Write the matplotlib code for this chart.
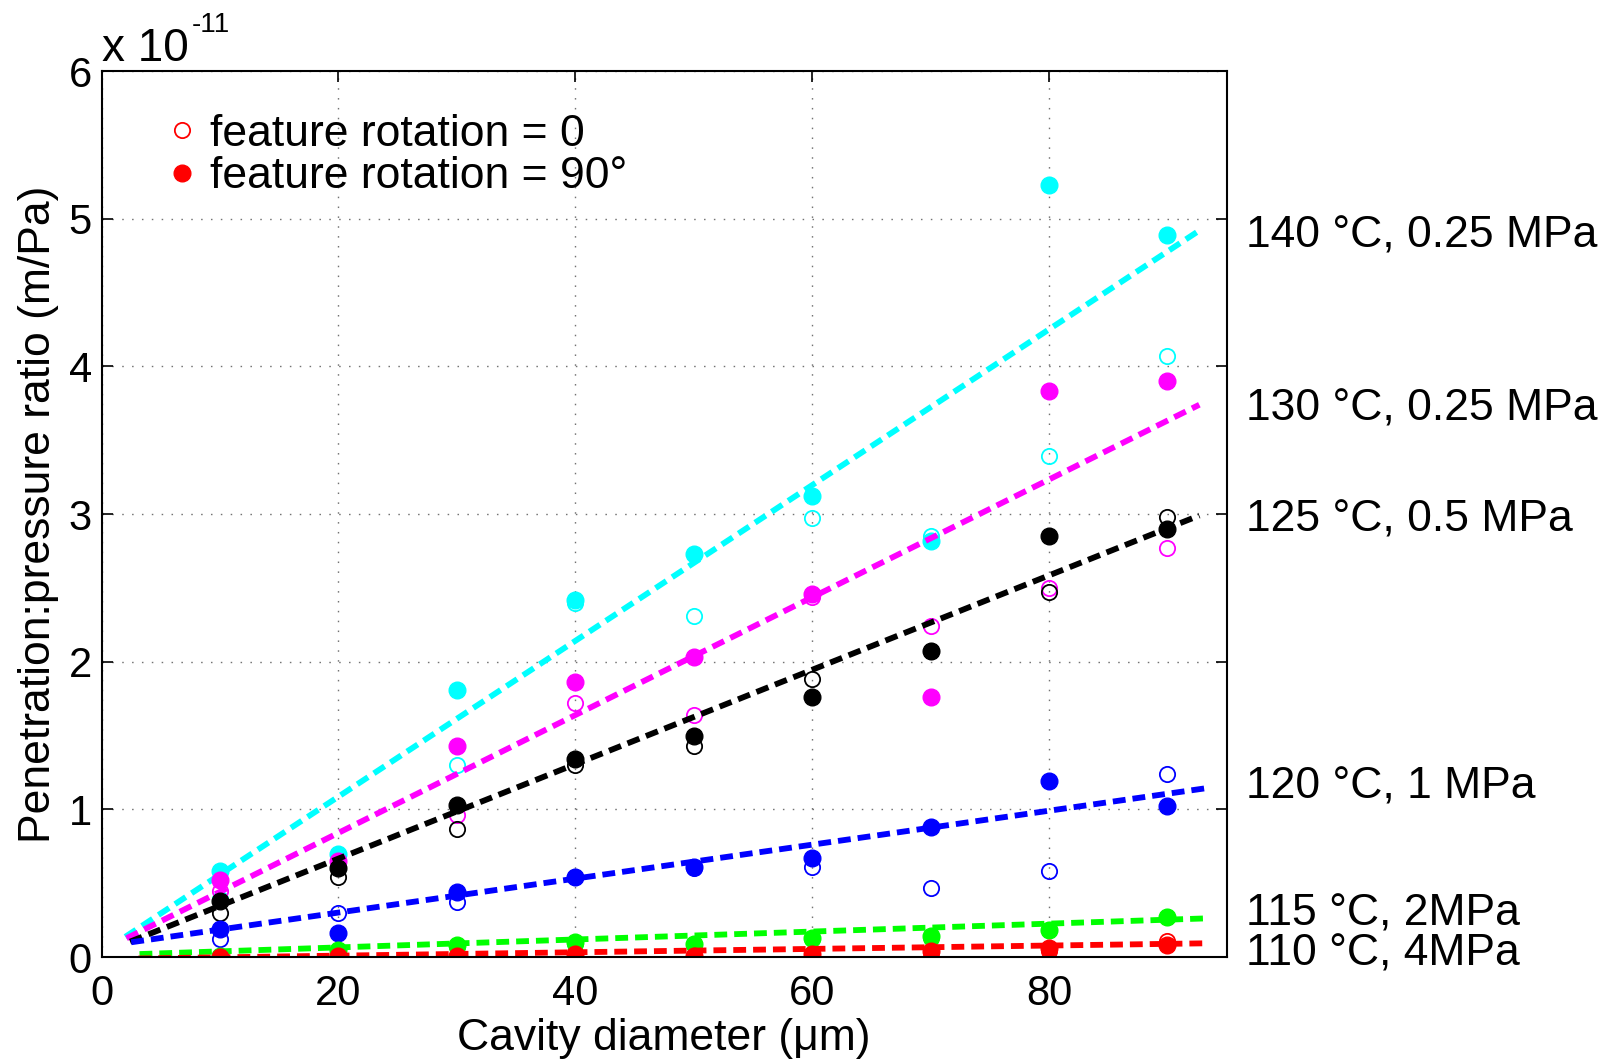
import matplotlib
matplotlib.use("Agg")
import matplotlib.pyplot as plt
from matplotlib.lines import Line2D

plt.rcParams['font.family'] = ['Liberation Sans', 'DejaVu Sans']

# Cavity diameters (um)
diameter = [10, 20, 30, 40, 50, 60, 70, 80, 90]

# Penetration:pressure ratio, in units of 1e-11 m/Pa
# "_0" = feature rotation 0 (open), "_90" = feature rotation 90 deg (filled)
c140_0 = [0.39, 0.63, 1.30, 2.40, 2.31, 2.97, 2.85, 3.39, 4.07]
c140_90 = [0.58, 0.70, 1.81, 2.42, 2.73, 3.12, 2.82, 5.23, 4.89]
c130_0 = [0.45, 0.62, 0.96, 1.72, 1.64, 2.44, 2.24, 2.50, 2.77]
c130_90 = [0.52, 0.65, 1.43, 1.86, 2.03, 2.46, 1.76, 3.83, 3.90]
c125_0 = [0.30, 0.54, 0.87, 1.30, 1.43, 1.88, 2.07, 2.47, 2.98]
c125_90 = [0.38, 0.60, 1.03, 1.34, 1.50, 1.76, 2.07, 2.85, 2.90]
c120_0 = [0.12, 0.30, 0.37, 0.54, 0.60, 0.61, 0.47, 0.58, 1.24]
c120_90 = [0.19, 0.16, 0.44, 0.54, 0.61, 0.67, 0.88, 1.19, 1.02]
c115_0 = [0.00, 0.04, 0.07, 0.09, 0.09, 0.12, 0.13, 0.18, 0.27]
c115_90 = [0.01, 0.05, 0.08, 0.10, 0.09, 0.13, 0.14, 0.18, 0.27]
c110_0 = [0.00, 0.01, 0.01, 0.02, 0.01, 0.02, 0.03, 0.04, 0.11]
c110_90 = [0.00, 0.01, 0.01, 0.02, 0.01, 0.02, 0.04, 0.06, 0.08]

# Linear trend lines: [start, end] diameter and ratio
fit140_x, fit140_y = [2.0, 92.7], [0.137, 4.92]
fit130_x, fit130_y = [2.1, 92.7], [0.127, 3.74]
fit125_x, fit125_y = [2.4, 92.7], [0.104, 2.99]
fit120_x, fit120_y = [2.5, 93.6], [0.100, 1.147]
fit115_x, fit115_y = [3.2, 93.4], [0.020, 0.262]
fit110_x, fit110_y = [3.1, 93.4], [-0.010, 0.093]

conditions = ["140 \u00b0C, 0.25 MPa", "130 \u00b0C, 0.25 MPa", "125 \u00b0C, 0.5 MPa",
              "120 \u00b0C, 1 MPa", "115 \u00b0C, 2MPa", "110 \u00b0C, 4MPa"]
label_y = [4.88, 3.71, 2.96, 1.15, 0.29, 0.02]

series = [
    ("c", c140_0, c140_90, fit140_x, fit140_y),
    ("m", c130_0, c130_90, fit130_x, fit130_y),
    ("k", c125_0, c125_90, fit125_x, fit125_y),
    ("b", c120_0, c120_90, fit120_x, fit120_y),
    ("g", c115_0, c115_90, fit115_x, fit115_y),
    ("r", c110_0, c110_90, fit110_x, fit110_y),
]
colors = {"c": (0, 1, 1), "m": (1, 0, 1), "k": (0, 0, 0),
          "b": (0, 0, 1), "g": (0, 1, 0), "r": (1, 0, 0)}

fig = plt.figure(figsize=(16.08, 10.63), dpi=100)
ax = fig.add_axes([0.0632, 0.0997, 0.6996, 0.8335])

for key, open_vals, filled_vals, fx, fy in series:
    col = colors[key]
    ax.plot(diameter, open_vals, linestyle="none", marker="o", markersize=11,
            markerfacecolor="none", markeredgecolor=col, markeredgewidth=1.3)
    ax.plot(diameter, filled_vals, linestyle="none", marker="o", markersize=12,
            markerfacecolor=col, markeredgecolor=col)
    ax.plot(fx, fy, color=col, linewidth=4.2, dashes=(2.2, 1.2),
            dash_capstyle="butt")

for text, y in zip(conditions, label_y):
    ax.text(96.6, y, text, fontsize=32, ha="left", va="center", clip_on=False)

ax.set_xlim(0, 95)
ax.set_ylim(0, 6)
ax.set_xticks([0, 20, 40, 60, 80])
ax.set_yticks([0, 1, 2, 3, 4, 5, 6])
ax.tick_params(direction="in", length=8, width=1.2, top=True, right=True,
               labelsize=30)
ax.tick_params(axis="x", pad=12)
ax.tick_params(axis="y", pad=7)
for sp in ax.spines.values():
    sp.set_linewidth(1.5)
ax.grid(True, color="0.45", linewidth=1.0, dashes=(1.1, 6.0))
ax.set_axisbelow(True)

ax.text(0.5, -0.0914, "Cavity diameter (\u03bcm)", transform=ax.transAxes,
        fontsize=32, ha="center", va="center")
ax.text(-0.056, 0.5, "Penetration:pressure ratio (m/Pa)", transform=ax.transAxes,
        fontsize=32, ha="center", va="center", rotation=90)

# Scale factor above the y axis
ax.text(0.0, 1.0113, "x 10", transform=ax.transAxes, fontsize=33,
        ha="left", va="baseline")
ax.text(0.0805, 1.0443, "-11", transform=ax.transAxes, fontsize=20,
        ha="left", va="baseline")

handles = [
    Line2D([], [], linestyle="none", marker="o", markersize=11,
           markerfacecolor="none", markeredgecolor="r", markeredgewidth=1.3),
    Line2D([], [], linestyle="none", marker="o", markersize=12,
           markerfacecolor="r", markeredgecolor="r"),
]
ax.legend(handles, ["feature rotation = 0", "feature rotation = 90\u00b0"],
          loc="upper left", bbox_to_anchor=(0.0559, 0.952), frameon=False,
          fontsize=32, handlelength=0.8, handletextpad=0.22,
          labelspacing=0.04, borderaxespad=0, borderpad=0)

fig.savefig("out.png", dpi=100)
